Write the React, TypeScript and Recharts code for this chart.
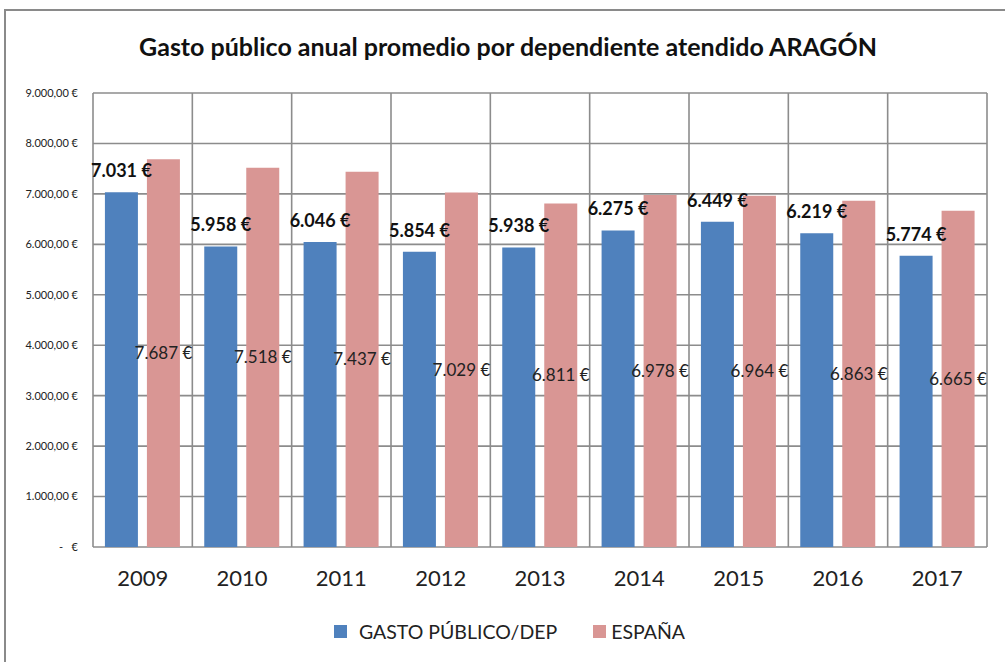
import React from 'react';
import {
    BarChart,
    Bar,
    XAxis,
    YAxis,
    CartesianGrid,
    Legend,
    LabelList
} from 'recharts';

const years = ['2009', '2010', '2011', '2012', '2013', '2014', '2015', '2016', '2017'];
const gastoPublico = [7031, 5958, 6046, 5854, 5938, 6275, 6449, 6219, 5774];
const espana = [7687, 7518, 7437, 7029, 6811, 6978, 6964, 6863, 6665];
const yTicks = [0, 1000, 2000, 3000, 4000, 5000, 6000, 7000, 8000, 9000];

const BLUE = '#4F81BD';
const PINK = '#D99694';
const FONT = 'Lato, "Noto Sans", sans-serif';

const data = years.map((year, i) => ({
    year,
    gasto: gastoPublico[i],
    espana: espana[i],
}));

// thousands with dots, like es-ES
const withDots = (n: number) => String(Math.round(n)).replace(/\B(?=(\d{3})+(?!\d))/g, '.');
const euroLabel = (v: any) => `${withDots(Number(v))} €`;
const yTickFmt = (v: number) => (v === 0 ? '-\u00a0\u00a0\u00a0€' : `${withDots(v)},00 €`);

const legendItems = [
    { key: 'gasto', name: 'GASTO PÚBLICO/DEP', color: BLUE },
    { key: 'espana', name: 'ESPAÑA', color: PINK },
];

const renderLegend = () => (
    <div style={{ display: 'flex', justifyContent: 'center', alignItems: 'center', height: 30, paddingLeft: 24, fontFamily: FONT }}>
        {legendItems.map((item, i) => (
            <div key={item.key} style={{ display: 'flex', alignItems: 'center', marginLeft: i === 0 ? 0 : 36 }}>
                <span style={{ width: 13, height: 13, background: item.color, display: 'inline-block', marginRight: i === 0 ? 12 : 5 }} />
                <span style={{ fontSize: 19.5, color: '#222' }}>{item.name}</span>
            </div>
        ))}
    </div>
);

// labels drawn as plain text so they don't wrap to the bar width
const topLabel = (props: any) => {
    const { x, y, width, value } = props;
    return (
        <text x={x + width / 2} y={y - 15} textAnchor="middle" fontFamily={FONT} fontSize={18} fontWeight="bold" fill="#111">
            {euroLabel(value)}
        </text>
    );
};

const midLabel = (props: any) => {
    const { x, y, width, height, value } = props;
    return (
        <text x={x + width / 2} y={y + height / 2} dy="0.35em" textAnchor="middle" fontFamily={FONT} fontSize={17} fill="#222">
            {euroLabel(value)}
        </text>
    );
};

// grid lines on category boundaries, not centers
const boundaryLines = ({ offset }: any) =>
    years.map((_, i) => offset.left + (i * offset.width) / years.length).concat(offset.left + offset.width);

export default function App() {
    return (
        <div style={{ position: 'fixed', left: 0, top: 0, width: 1005, height: 662, overflow: 'hidden', background: '#fff' }}>
            <div style={{ position: 'absolute', left: 4, top: 9, width: 1030, height: 700, border: '2px solid #8a8a8a' }} />
            <div style={{
                position: 'absolute', left: 0, top: 31, width: 1016, textAlign: 'center',
                fontFamily: FONT, fontWeight: 'bold', fontSize: 25, color: '#111'
            }}>
                Gasto público anual promedio por dependiente atendido ARAGÓN
            </div>
            <div style={{ position: 'absolute', left: 0, top: 0 }}>
                <BarChart
                    width={1005}
                    height={662}
                    data={data}
                    margin={{ top: 93, right: 18, left: 8, bottom: 16 }}
                    barCategoryGap="12%"
                    barGap={9}
                >
                    <CartesianGrid
                        stroke="#8c8c8c"
                        strokeWidth={1.6}
                        verticalCoordinatesGenerator={boundaryLines}
                    />
                    <XAxis
                        dataKey="year"
                        height={69}
                        tickSize={0}
                        tickMargin={23}
                        axisLine={false}
                        tick={{ fontSize: 22, fill: '#222', fontFamily: FONT }}
                    />
                    <YAxis
                        width={85}
                        domain={[0, 9000]}
                        ticks={yTicks}
                        tickSize={0}
                        tickMargin={15}
                        axisLine={false}
                        tickFormatter={yTickFmt}
                        tick={{ fontSize: 11, fill: '#222', fontFamily: FONT }}
                    />
                    <Legend verticalAlign="bottom" content={renderLegend} wrapperStyle={{ height: 30 }} />
                    <Bar dataKey="gasto" name="GASTO PÚBLICO/DEP" fill={BLUE} isAnimationActive={false}>
                        <LabelList dataKey="gasto" content={topLabel} />
                    </Bar>
                    <Bar dataKey="espana" name="ESPAÑA" fill={PINK} isAnimationActive={false}>
                        <LabelList dataKey="espana" content={midLabel} />
                    </Bar>
                </BarChart>
            </div>
        </div>
    );
}
